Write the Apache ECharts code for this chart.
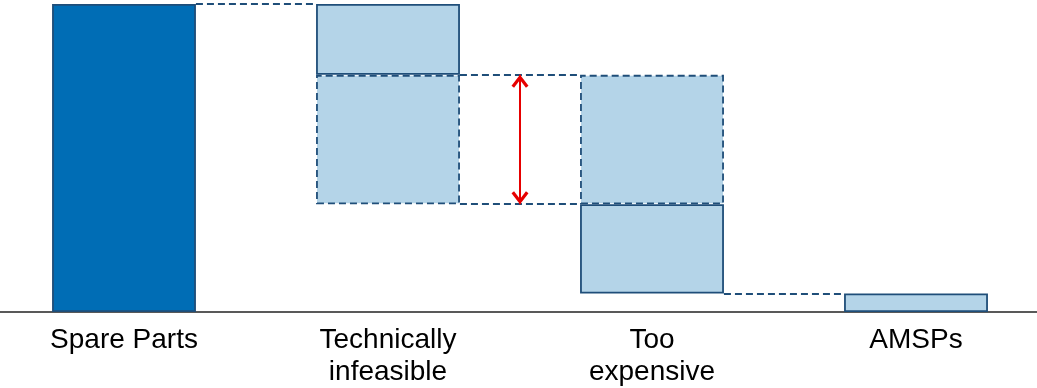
<!DOCTYPE html>
<html>
<head>
<meta charset="utf-8">
<script src="https://cdn.jsdelivr.net/npm/echarts@6/dist/echarts.min.js"></script>
<style>
  html, body { margin: 0; padding: 0; background: #fff; overflow: hidden; }
  #wrap { width: 1037px; height: 388px; overflow: hidden; position: relative; }
  /* the plot band runs slightly past both window edges */
  #chart { position: absolute; left: -8px; top: 0; width: 1056px; height: 388px; }
</style>
</head>
<body>
<div id="wrap"><div id="chart"></div></div>
<script>
// Categories along the x axis
const categories = ['Spare Parts', 'Technically\ninfeasible', 'Too\nexpensive', 'AMSPs'];

// Waterfall values (share of spare parts, %)
const totalSpareParts = 100;
const technicallyInfeasible = 23;
const uncertainShare = 42;   // parts that may be counted in either group
const tooExpensive = 29;
const amsps = 6;

// Running levels of the waterfall
const afterInfeasible = totalSpareParts - technicallyInfeasible;   // 77
const uncertainBottom = afterInfeasible - uncertainShare;          // 35
const afterExpensive = uncertainBottom - tooExpensive;             // 6

// Styles
const DARK = '#006DB5';
const LIGHT = '#B4D4E8';
const EDGE = '#1F4E79';
const RED = '#E60000';
const DASH = [7, 4];
const BAR_RATIO = 0.545;
const HALF = BAR_RATIO / 2;

const solid = (color) => ({ color: color, borderColor: EDGE, borderWidth: 1.8 });
const dashed = () => ({ color: LIGHT, borderColor: EDGE, borderWidth: 1.8, borderType: DASH });

// Stack: invisible base, lower segment, upper segment
const baseData = [0, uncertainBottom, afterExpensive, 0];
const lowerData = [
  { value: totalSpareParts, itemStyle: solid(DARK) },
  { value: uncertainShare, itemStyle: dashed() },
  { value: tooExpensive, itemStyle: solid(LIGHT) },
  { value: amsps, itemStyle: solid(LIGHT) }
];
const upperData = [
  '-',
  { value: technicallyInfeasible, itemStyle: solid(LIGHT) },
  { value: uncertainShare, itemStyle: dashed() },
  '-'
];

// Dashed connectors between neighbouring bars
const connector = (i, level) => [
  { coord: [i + HALF, level] },
  { coord: [i + 1 - HALF, level] }
];
const connectors = [
  connector(0, totalSpareParts),
  connector(1, afterInfeasible),
  connector(1, uncertainBottom),
  connector(2, afterExpensive)
];

// Open chevron arrowhead, tip at the symbol centre
const CHEVRON = 'path://M8,0 L16,10.5 L13.6,12.6 L8,5 L2.4,12.6 L0,10.5 Z M8,-12.6 L8,-12.59';

const chart = echarts.init(document.getElementById('chart'), null, { renderer: 'canvas' });
chart.setOption({
  animation: false,
  backgroundColor: '#fff',
  grid: { left: 0, right: 0, top: 4, bottom: 76, containLabel: false },
  xAxis: [
    {
      type: 'category',
      data: categories,
      axisLine: { show: true, lineStyle: { color: '#222', width: 1.6 } },
      axisTick: { show: false },
      axisLabel: {
        interval: 0,
        margin: 12,
        color: '#000',
        fontSize: 28,
        lineHeight: 32,
        fontFamily: 'Liberation Sans, Arial, sans-serif'
      },
      splitLine: { show: false }
    },
    {
      type: 'value',
      min: -0.5,
      max: 3.5,
      show: false
    }
  ],
  yAxis: {
    type: 'value',
    min: 0,
    max: 100,
    show: false,
    splitLine: { show: false }
  },
  series: [
    {
      type: 'line',
      xAxisIndex: 1,
      data: [],
      z: 1,
      markLine: {
        silent: true,
        symbol: ['none', 'none'],
        label: { show: false },
        lineStyle: { color: EDGE, width: 1.8, type: DASH },
        data: connectors
      }
    },
    {
      type: 'bar',
      stack: 'wf',
      barWidth: (BAR_RATIO * 100) + '%',
      data: baseData,
      itemStyle: { color: 'transparent', borderWidth: 0 },
      silent: true,
      z: 2
    },
    {
      type: 'bar',
      stack: 'wf',
      data: lowerData,
      silent: true,
      z: 2
    },
    {
      type: 'bar',
      stack: 'wf',
      data: upperData,
      silent: true,
      z: 2
    },
    {
      type: 'line',
      xAxisIndex: 1,
      data: [],
      z: 5,
      markLine: {
        silent: true,
        symbol: [CHEVRON, CHEVRON],
        symbolSize: [17, 26],
        label: { show: false },
        lineStyle: { color: RED, width: 2, type: 'solid' },
        data: [[
          { coord: [1.5, afterInfeasible] },
          { coord: [1.5, uncertainBottom] }
        ]]
      }
    }
  ]
});
</script>
</body>
</html>
